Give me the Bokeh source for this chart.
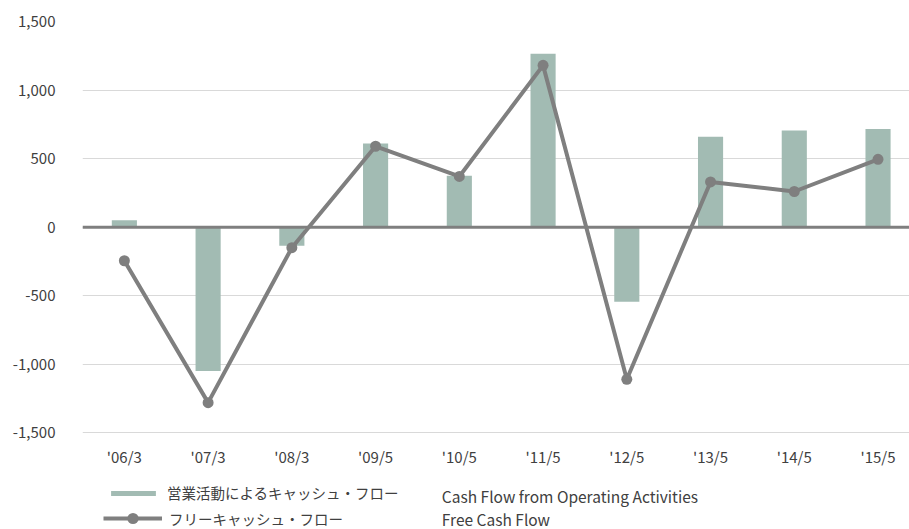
from bokeh.plotting import figure
from bokeh.models import (Range1d, FixedTicker, NumeralTickFormatter, Span, Legend,
                          LegendItem, Label, ColumnDataSource)
from bokeh.core.properties import value
from bokeh.embed import file_html
from bokeh.resources import INLINE

periods = ["'06/3", "'07/3", "'08/3", "'09/5", "'10/5", "'11/5", "'12/5", "'13/5", "'14/5", "'15/5"]
operating_cf = [50, -1050, -135, 610, 375, 1265, -545, 660, 705, 715]
free_cf = [-245, -1280, -150, 590, 370, 1180, -1110, 330, 260, 495]
y_ticks = [-1500, -1000, -500, 0, 500, 1000, 1500]
legend_jp = ["営業活動によるキャッシュ・フロー", "フリーキャッシュ・フロー"]
legend_en = ["Cash Flow from Operating Activities", "Free Cash Flow"]

xs = list(range(len(periods)))
FONT = "Noto Sans CJK JP"
BAR = "#a2bbb3"
GREY = "#7f7f7f"
TXT = "#404040"

W, H = 909, 529
PX = 411.3 / 3000.0          # pixels per data unit
left, top = 82, 21
y_start = -1500 - (H - top - 411.3) / PX

p = figure(width=W, height=H, output_backend="svg", toolbar_location=None,
           x_range=Range1d(-0.5, -0.5 + (W - left) / 83.74), y_range=Range1d(y_start, 1500),
           min_border_left=left, min_border_right=0, min_border_top=top, min_border_bottom=0)
p.outline_line_color = None
p.xaxis.visible = False

p.yaxis.ticker = FixedTicker(ticks=y_ticks)
p.yaxis.formatter = NumeralTickFormatter(format="0,0")
ax = p.yaxis[0]
ax.axis_line_color = None
ax.major_tick_line_color = None
ax.minor_tick_line_color = None
ax.major_label_text_font = FONT
ax.major_label_text_font_size = "15px"
ax.major_label_text_color = TXT
ax.major_label_standoff = 21
p.xgrid.grid_line_color = None
p.ygrid.ticker = FixedTicker(ticks=y_ticks)
p.ygrid.grid_line_color = "#d9d9d9"
p.ygrid.grid_line_width = 1

# category labels under the chart
src_lab = ColumnDataSource(dict(x=xs, y=[-1500] * len(xs), t=periods))
p.text(x="x", y="y", text="t", source=src_lab, y_offset=24, text_align="center",
       text_baseline="middle", text_font=value(FONT), text_font_size="15px", text_color=TXT)

bars = p.vbar(x=xs, top=operating_cf, width=0.3, bottom=0, fill_color=BAR, line_color=None)

zero = Span(location=0, dimension="width", line_color=GREY, line_width=3, level="glyph")
p.renderers.append(zero)

ln = p.line(xs, free_cf, line_color=GREY, line_width=4)
pts = p.scatter(xs, free_cf, size=11, fill_color=GREY, line_color=None)

common = dict(orientation="vertical", padding=0, margin=0, border_line_color=None,
              background_fill_alpha=0, label_text_font=FONT, label_text_font_size="14.5px",
              label_text_color=TXT, label_height=20)

leg_bar = Legend(items=[LegendItem(label=legend_jp[0], renderers=[bars])],
                 glyph_width=56, glyph_height=6, label_standoff=6, **common)
leg_bar.location = (23, 26)
p.add_layout(leg_bar, "center")

leg_line = Legend(items=[LegendItem(label=legend_jp[1], renderers=[ln, pts])],
                  glyph_width=59, glyph_height=28, label_standoff=7, **common)
leg_line.location = (21, -3)
p.add_layout(leg_line, "center")

for i, txt in enumerate(legend_en):
    p.add_layout(Label(x=(441.5 - 124) / 83.74, y=-1500, y_offset=-(495 - 432) - i * 23, text=txt,
                       text_font=FONT, text_font_size="15.5px", text_color=TXT,
                       text_baseline="middle"))

open("out.html", "w").write(file_html(p, INLINE))
